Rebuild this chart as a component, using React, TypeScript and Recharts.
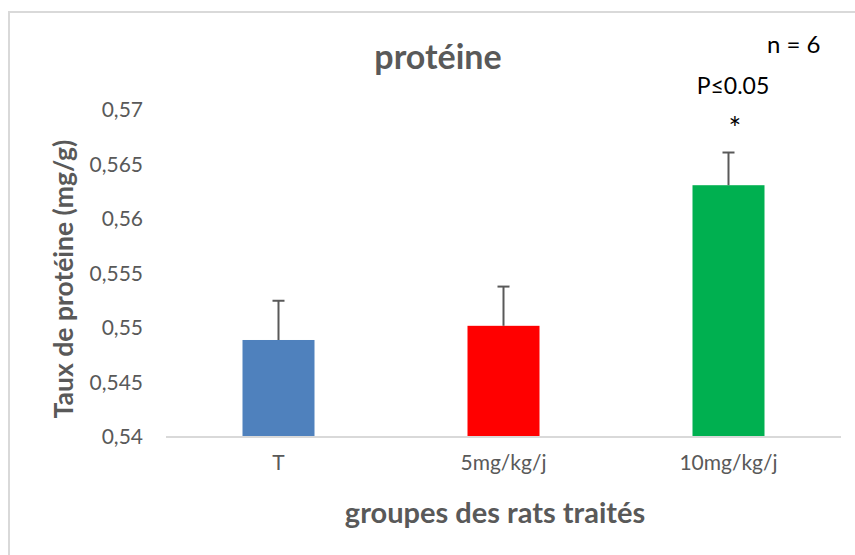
import { BarChart, Bar, XAxis, YAxis, Cell } from 'recharts';

// groups and measured protein levels (mg/g), error = +SEM only (Excel style)
const GROUPS = ['T', '5mg/kg/j', '10mg/kg/j'];
const VALUES = [0.5489, 0.5502, 0.5631];
const ERRORS = [0.0036, 0.0036, 0.0030];
const COLORS = ['#4F81BD', '#FF0000', '#00B050'];
const Y_TICKS = [0.54, 0.545, 0.55, 0.555, 0.56, 0.565, 0.57];
const Y_MIN = 0.54;

const FONT = 'Lato, "Open Sans", sans-serif';
const GRAY = '#595959';

const data = GROUPS.map((g, i) => ({ name: g, value: VALUES[i], err: ERRORS[i] }));

// bar + upper-only error bar; px per unit comes from the bar's own scaled height
function BarWithError(props: any) {
  const { x, y, width, height, payload, fill } = props;
  const pxPerUnit = height / (payload.value - Y_MIN);
  const top = y - payload.err * pxPerUnit;
  const cx = x + width / 2;
  return (
    <g>
      <rect x={x} y={y} width={width} height={height} fill={fill} />
      <line x1={cx} x2={cx} y1={y} y2={top} stroke={GRAY} strokeWidth={2} />
      <line x1={cx - 6} x2={cx + 6} y1={top} y2={top} stroke={GRAY} strokeWidth={2} />
    </g>
  );
}

export default function App() {
  return (
    <div style={{ position: 'absolute', left: 0, top: 0, width: 855, height: 555, overflow: 'hidden', background: 'white', fontFamily: FONT }}>
      {/* chart frame, only top/left edges show in the crop */}
      <div style={{ position: 'absolute', left: 8, top: 11, width: 900, height: 600, borderTop: '2px solid #d9d9d9', borderLeft: '2px solid #d9d9d9' }} />
      <BarChart
        width={855}
        height={555}
        data={data}
        margin={{ top: 110, right: 14, bottom: 88, left: 106 }}
        barCategoryGap="34%"
        style={{ position: 'absolute', left: 0, top: 0 }}
      >
        <XAxis
          dataKey="name"
          height={30}
          tickLine={false}
          tickSize={0}
          tickMargin={18}
          axisLine={{ stroke: '#d9d9d9', strokeWidth: 2 }}
          tick={{ fill: GRAY, fontSize: 21, fontFamily: FONT }}
        />
        <YAxis
          width={60}
          domain={[Y_MIN, 0.57]}
          ticks={Y_TICKS}
          interval={0}
          allowDataOverflow
          tickLine={false}
          axisLine={false}
          tickSize={0}
          tickMargin={23}
          tickFormatter={(v: number) => String(v).replace('.', ',')}
          tick={{ fill: GRAY, fontSize: 21, fontFamily: FONT }}
        />
        <Bar dataKey="value" isAnimationActive={false} shape={BarWithError}>
          {data.map((d, i) => (
            <Cell key={d.name} fill={COLORS[i]} />
          ))}
        </Bar>
      </BarChart>

      <div style={{ position: 'absolute', left: 0, width: 876, top: 36, textAlign: 'center', fontSize: 34, fontWeight: 700, color: GRAY, lineHeight: 1.2 }}>
        protéine
      </div>
      <div style={{ position: 'absolute', left: 767, top: 29, fontSize: 24, color: '#000' }}>n = 6</div>
      <div style={{ position: 'absolute', left: 683, width: 100, top: 71, textAlign: 'center', fontSize: 23, color: '#000' }}>P≤0.05</div>
      <div style={{ position: 'absolute', left: 685, width: 100, top: 109, textAlign: 'center', fontSize: 30, color: '#000' }}>*</div>
      <div
        style={{
          position: 'absolute', left: 63, top: 279, transform: 'translate(-50%, -50%) rotate(-90deg)',
          whiteSpace: 'nowrap', fontSize: 26.5, fontWeight: 700, color: GRAY,
        }}
      >
        Taux de protéine (mg/g)
      </div>
      <div style={{ position: 'absolute', left: 0, width: 990, top: 494, textAlign: 'center', fontSize: 29, fontWeight: 700, color: GRAY }}>
        groupes des rats traités
      </div>
    </div>
  );
}
